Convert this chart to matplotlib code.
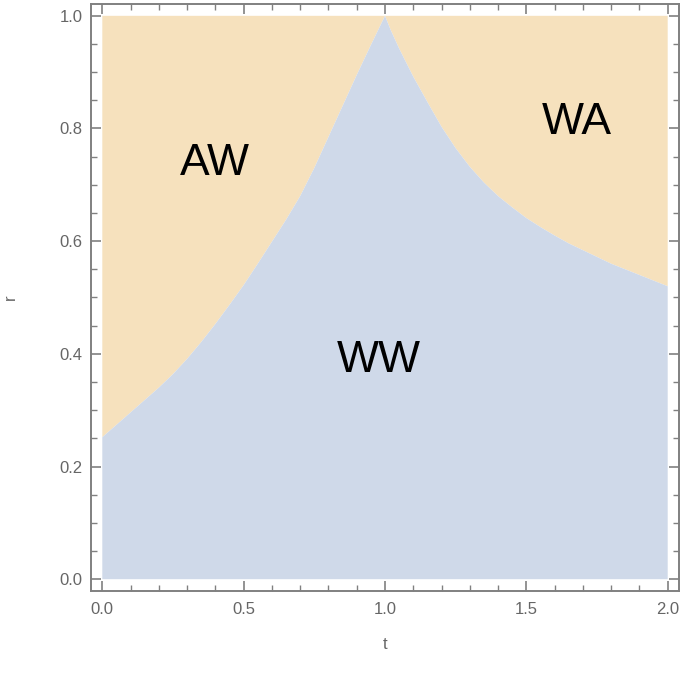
import numpy as np
import matplotlib
matplotlib.use('Agg')
import matplotlib.pyplot as plt
from matplotlib.ticker import MultipleLocator

# boundary between the regions
left_t = [0.0, 0.05, 0.1, 0.15, 0.2, 0.25, 0.3, 0.35, 0.4, 0.45, 0.5,
          0.55, 0.6, 0.65, 0.7, 0.75, 0.8, 0.85, 0.9, 0.95, 1.0]
left_r = [0.252, 0.274, 0.296, 0.318, 0.340, 0.364, 0.391, 0.421, 0.453, 0.487, 0.522,
          0.560, 0.599, 0.638, 0.680, 0.730, 0.785, 0.840, 0.895, 0.948, 1.0]
right_t = [1.0, 1.02, 1.05, 1.1, 1.15, 1.2, 1.25, 1.3, 1.35, 1.4, 1.45, 1.5,
           1.55, 1.6, 1.65, 1.7, 1.75, 1.8, 1.85, 1.9, 1.95, 2.0]
right_r = [1.0, 0.975, 0.942, 0.892, 0.847, 0.803, 0.765, 0.732, 0.704, 0.680, 0.660, 0.641,
           0.625, 0.610, 0.596, 0.584, 0.572, 0.560, 0.550, 0.540, 0.530, 0.520]

region_names = ['AW', 'WA', 'WW']
region_t = [0.40, 1.677, 0.978]
region_r = [0.737, 0.81, 0.388]

orange = '#F6E1BD'
blue = '#CFD9E9'
grey = '#808080'

plt.rcParams['font.family'] = ['Liberation Sans', 'DejaVu Sans']

fig = plt.figure(figsize=(6.85, 6.75), dpi=100)
ax = fig.add_axes([91/685, 84/675, 588/685, 587/675])

bt = np.array(left_t + right_t[1:])
br = np.array(left_r + right_r[1:])
ax.fill_between(bt, br, 1.0, facecolor=orange, linewidth=0)
ax.fill_between(bt, 0.0, br, facecolor=blue, linewidth=0)

for name, t, r in zip(region_names, region_t, region_r):
    ax.text(t, r, name, fontsize=32, ha='center', va='center', color='black')

ax.set_xlim(-0.04, 2.04)
ax.set_ylim(-0.021, 1.021)

ax.xaxis.set_major_locator(MultipleLocator(0.5))
ax.xaxis.set_minor_locator(MultipleLocator(0.1))
ax.yaxis.set_major_locator(MultipleLocator(0.2))
ax.yaxis.set_minor_locator(MultipleLocator(0.05))
ax.xaxis.set_major_formatter(plt.FuncFormatter(lambda v, p: '%.1f' % v))
ax.yaxis.set_major_formatter(plt.FuncFormatter(lambda v, p: '%.1f' % v))

ax.tick_params(which='both', direction='in', top=True, right=True,
               color=grey, labelcolor='#666666', labelsize=12)
ax.tick_params(which='major', length=7, width=1.2)
ax.tick_params(which='minor', length=4, width=1.0)
ax.tick_params(axis='x', pad=8)
ax.tick_params(axis='y', pad=6)
for s in ax.spines.values():
    s.set_color(grey)
    s.set_linewidth(1.4)

ax.set_xlabel('t', fontsize=12, color='#666666', labelpad=14)
ax.set_ylabel('r', fontsize=12, color='#666666', labelpad=30)

fig.savefig('out.png', dpi=100)
